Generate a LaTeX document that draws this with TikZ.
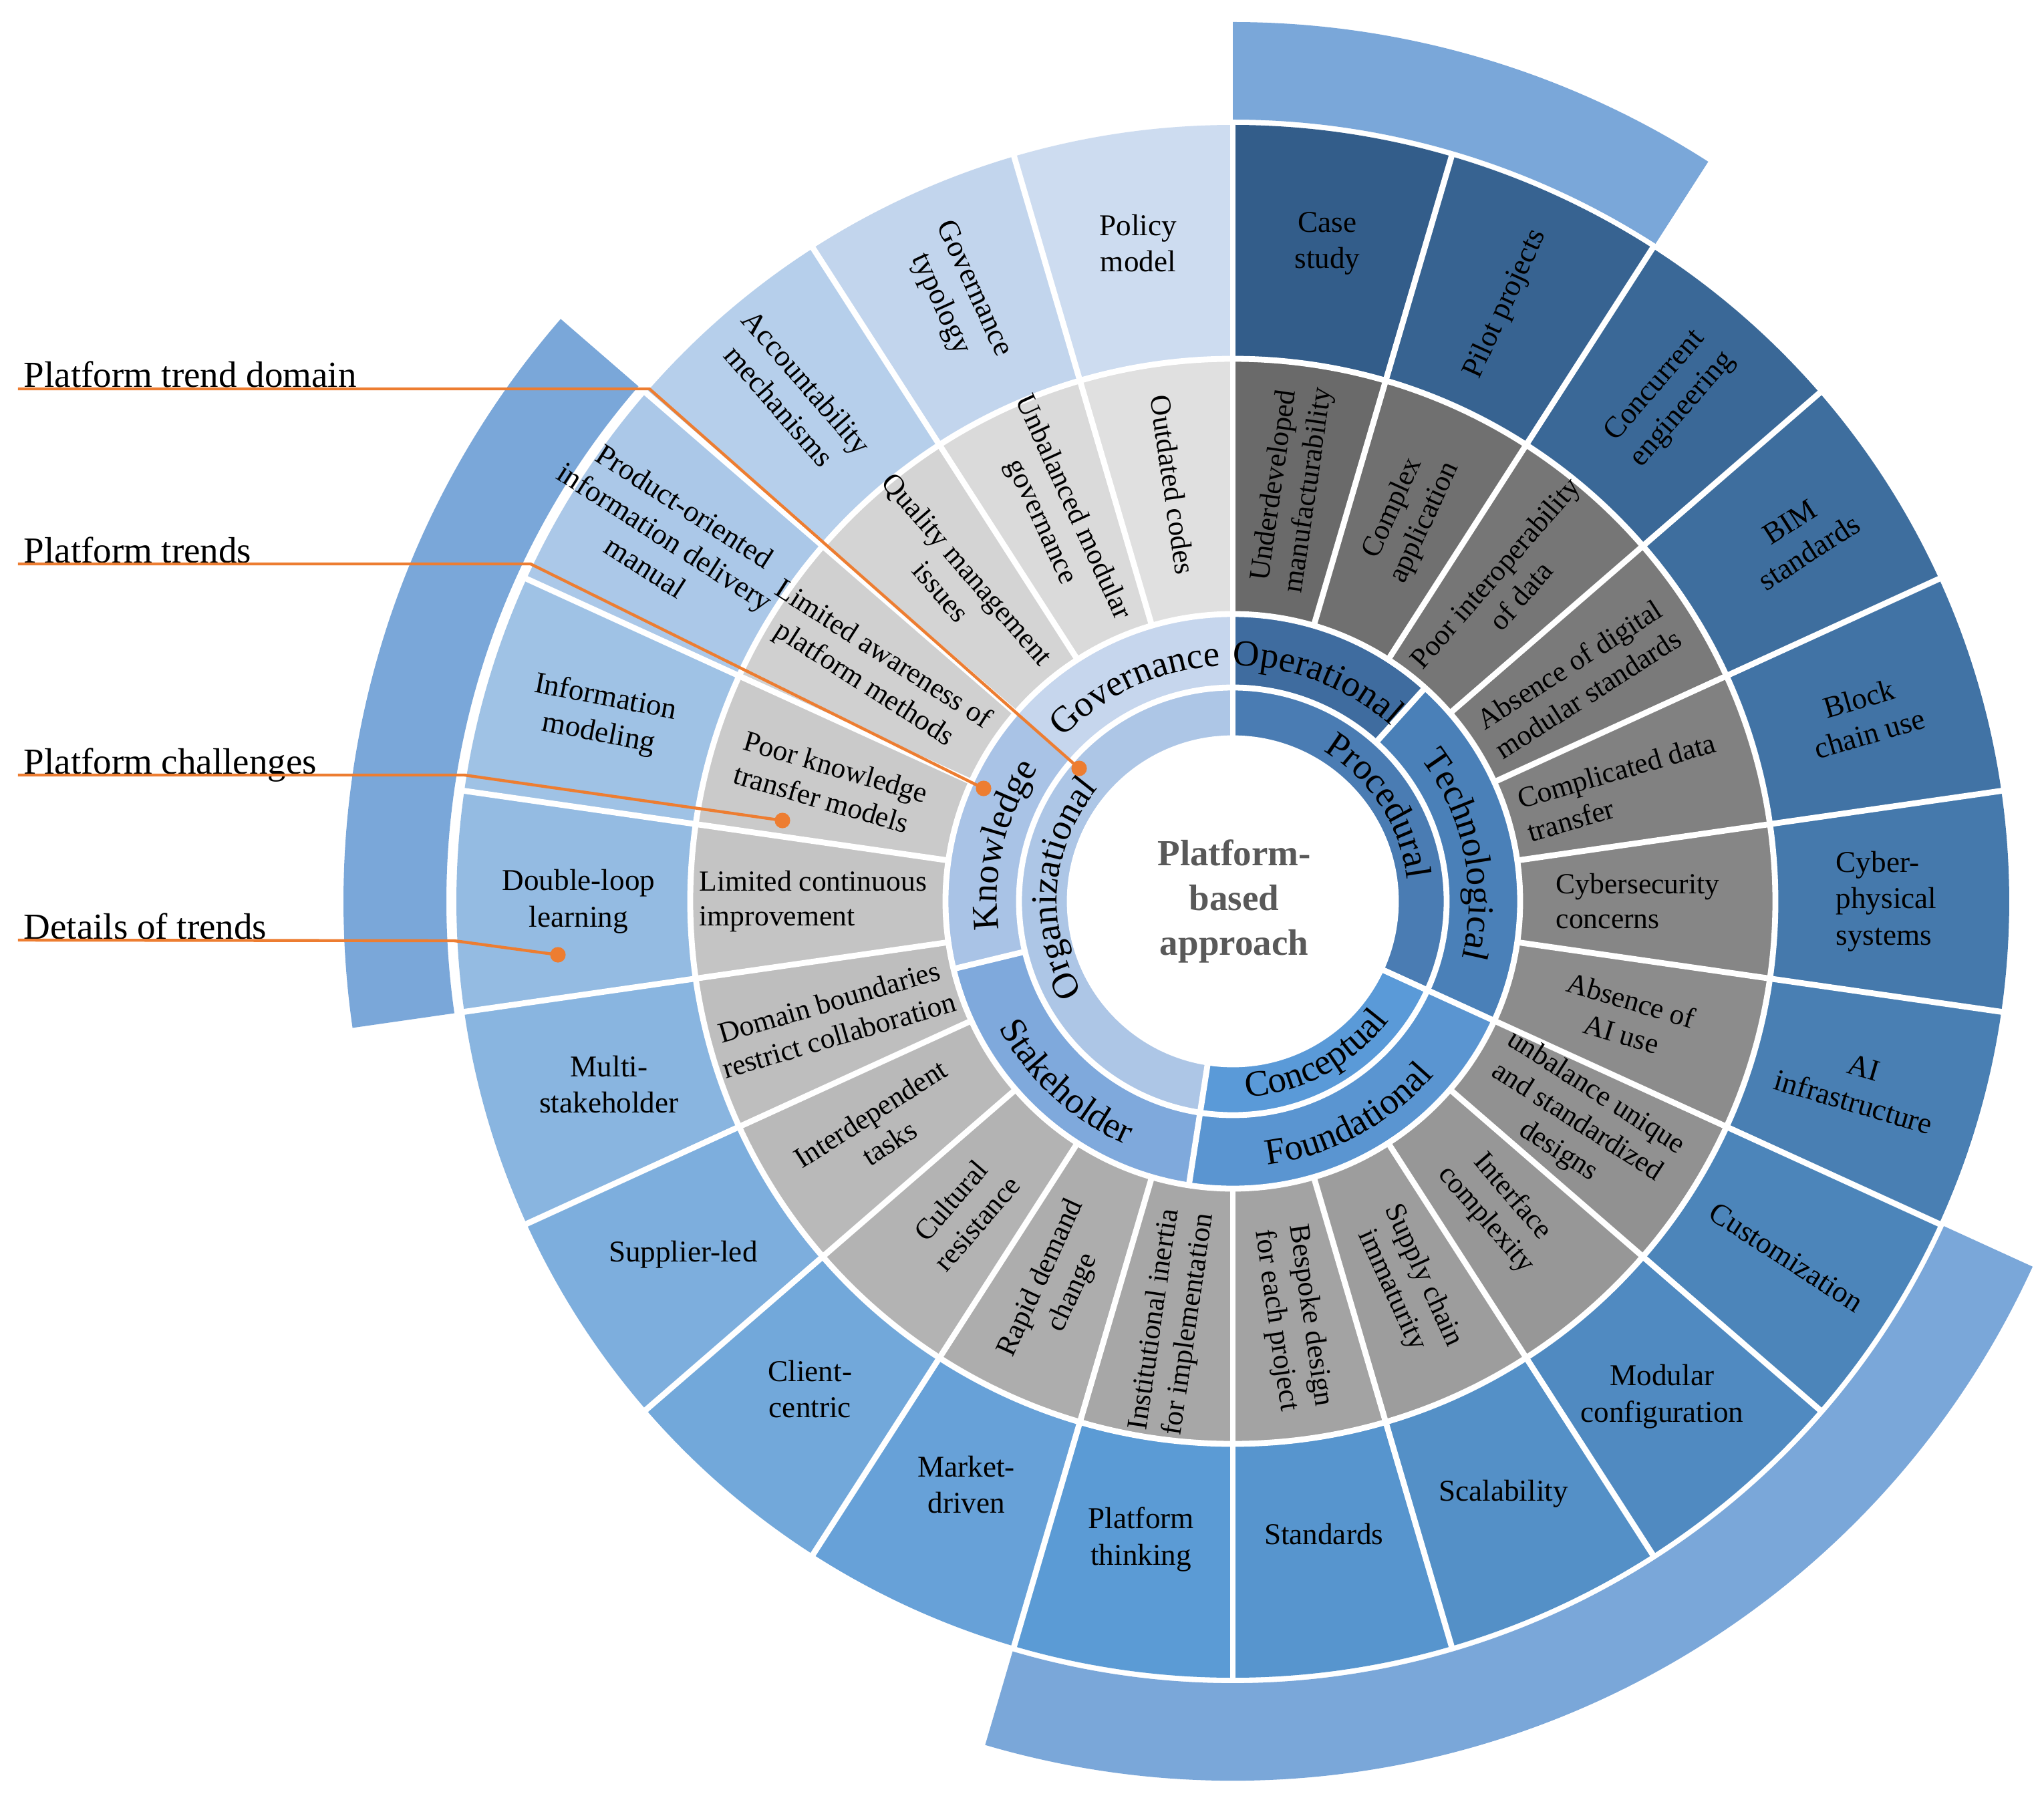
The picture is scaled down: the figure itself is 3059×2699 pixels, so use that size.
\documentclass[tikz,border=0pt]{standalone}
\usepackage{fontspec}
\setmainfont{Liberation Serif}
\usetikzlibrary{decorations.text}
\definecolor{dA}{HTML}{335D8A}
\definecolor{dB}{HTML}{5B9BD5}
\definecolor{dE}{HTML}{CDDCF0}
\definecolor{gA}{HTML}{6A6A6A}
\definecolor{gE}{HTML}{E0E0E0}
\definecolor{arcblue}{HTML}{7AA7D9}
\definecolor{govc}{HTML}{C6D6ED}
\definecolor{knowc}{HTML}{A9C3E6}
\definecolor{stakec}{HTML}{7FA9DC}
\definecolor{foundc}{HTML}{5A95D1}
\definecolor{techc}{HTML}{4A80B8}
\definecolor{operc}{HTML}{3F6C9F}
\definecolor{orgc}{HTML}{ADC6E6}
\definecolor{procc}{HTML}{4A7CB3}
\definecolor{concc}{HTML}{5A9AD8}
\definecolor{orangec}{HTML}{ED7D31}
\definecolor{centerc}{HTML}{595959}
\newcommand\annsec[5]{\fill[#5] (#3:#1) arc[start angle=#3,end angle=#4,radius=#1] -- (#4:#2) arc[start angle=#4,end angle=#3,radius=#2] -- cycle;}
\newcommand\ringfont{\fontsize{13.75}{16}\selectfont}
\begin{document}
\begin{tikzpicture}[x=0.25pt,y=0.25pt,
  sep/.style={white, line width=2.2pt},
  dlab/.style={font=\fontsize{11.3}{13.6}\selectfont, align=center, inner sep=0pt},
  clab/.style={font=\fontsize{10.9}{13}\selectfont, align=center, inner sep=0pt},
  leader/.style={orangec, line width=1.1pt},
  dotnode/.style={circle, fill=orangec, minimum size=5.8pt, inner sep=0pt},
  sidelab/.style={font=\fontsize{13.75}{16}\selectfont, anchor=base west, inner sep=0pt}]
\fill[white] (-1845,-1350) rectangle (1214,1349);
\useasboundingbox (-1845,-1350) rectangle (1214,1349);
% outer highlight arcs
\annsec{1170}{1316}{57.27}{90}{arcblue}
\annsec{1177}{1331}{139.09}{188.18}{arcblue}
\annsec{1170}{1316}{-106.36}{-24.55}{arcblue}
% rings D and C
\foreach \i in {0,...,21}{
  \pgfmathsetmacro\aS{90-16.363636*\i}
  \pgfmathsetmacro\aE{90-16.363636*(\i+1)}
  \ifnum\i<12 \pgfmathtruncatemacro\p{round(100*\i/11)}\colorlet{cur}{dB!\p!dA}%
  \else \pgfmathtruncatemacro\p{round(100*(\i-11)/10)}\colorlet{cur}{dE!\p!dB}\fi
  \annsec{812}{1162}{\aS}{\aE}{cur}
  \pgfmathtruncatemacro\q{round(100*\i/21)}
  \colorlet{curg}{gE!\q!gA}
  \annsec{430}{812}{\aS}{\aE}{curg}
}
% ring B
\annsec{320}{430}{48}{90}{operc}
\annsec{320}{430}{-24.55}{48}{techc}
\annsec{320}{430}{-98.8}{-24.55}{foundc}
\annsec{320}{430}{193.6}{261.2}{stakec}
\annsec{320}{430}{139.09}{193.6}{knowc}
\annsec{320}{430}{90}{139.09}{govc}
% ring A
\annsec{244}{320}{-24.55}{90}{procc}
\annsec{244}{320}{-98.8}{-24.55}{concc}
\annsec{244}{320}{90}{261.2}{orgc}
% separators
\foreach \i in {0,...,21} \draw[sep] ({90-16.363636*\i}:428) -- ({90-16.363636*\i}:1166);
\foreach \r in {244,320,430,812} \draw[sep] (0,0) circle[radius=\r];
\foreach \a in {90,48,-24.55,-98.8,193.6} \draw[sep] (\a:318) -- (\a:432);
\foreach \a in {90,-24.55,-98.8} \draw[sep] (\a:242) -- (\a:322);
% ring D labels
\node[dlab] (d0) at (81.82:995) {Case\\study};
\node[dlab, rotate=65.45] (d1) at (65.45:983) {Pilot projects};
\node[dlab, rotate=49.09] (d2) at (49.09:997) {Concurrent\\engineering};
\node[dlab, rotate=32.73] (d3) at (32.73:1008) {BIM\\standards};
\node[dlab, rotate=16.36] (d4) at (16.36:985) {Block\\chain use};
\node[dlab, align=left] (d5) at (0:978) {Cyber-\\physical\\systems};
\node[dlab, rotate=-16.36] (d6) at (-16.36:976) {AI\\infrastructure};
\node[dlab, rotate=-32.73] (d7) at (-32.73:985) {Customization};
\node[dlab] (d8) at (-49.09:981) {Modular\\configuration};
\node[dlab] (d9) at (-65.45:975) {Scalability};
\node[dlab] (d10) at (-81.82:957) {Standards};
\node[dlab] (d11) at (-98.18:965) {Platform\\thinking};
\node[dlab] (d12) at (-114.55:960) {Market-\\driven};
\node[dlab] (d13) at (-130.91:966) {Client-\\centric};
\node[dlab] (d14) at (-147.27:978) {Supplier-led};
\node[dlab] (d15) at (-163.64:973) {Multi-\\stakeholder};
\node[dlab] (d16) at (180:979) {Double-loop\\learning};
\node[dlab, rotate=-11] (d17) at (163.64:984) {Information\\modeling};
\node[dlab, rotate=-32.73] (d18) at (147.27:1010) {Product-oriented\\information delivery\\manual};
\node[dlab, rotate=-49.09] (d19) at (130.91:1005) {Accountability\\mechanisms};
\node[dlab, rotate=-65.45] (d20) at (114.55:995) {Governance\\typology};
\node[dlab] (d21) at (98.18:995) {Policy\\model};
% ring C labels
\node[clab, rotate=81.82] (c0) at (81.82:625) {Underdeveloped\\manufacturability};
\node[clab, rotate=65.45] (c1) at (65.45:635) {Complex\\application};
\node[clab, rotate=49.09] (c2) at (49.09:628) {Poor interoperability\\of data};
\node[clab, rotate=32.73] (c3) at (32.73:615) {Absence of digital\\modular standards};
\node[clab, rotate=16.36, align=left] (c4) at (16.36:606) {Complicated data\\transfer};
\node[clab, align=left] (c5) at (0:606) {Cybersecurity\\concerns};
\node[clab, rotate=-16.36] (c6) at (-16.36:614) {Absence of\\AI use};
\node[clab, rotate=-32.73] (c7) at (-32.73:612) {unbalance unique\\and standardized\\designs};
\node[clab, rotate=-49.09] (c8) at (-49.09:608) {Interface\\complexity};
\node[clab, rotate=-65.45] (c9) at (-65.45:628) {Supply chain\\immaturity};
\node[clab, rotate=-81.82] (c10) at (-81.82:630) {Bespoke design\\for each project};
\node[clab, rotate=81.82] (c11) at (-98.18:636) {Institutional inertia\\for implementation};
\node[clab, rotate=65.45] (c12) at (-114.55:632) {Rapid demand\\change};
\node[clab, rotate=49.09] (c13) at (-130.91:615) {Cultural\\resistance};
\node[clab, rotate=32.73] (c14) at (-147.27:628) {Interdependent\\tasks};
\node[clab, rotate=16.36] (c15) at (-163.64:622) {Domain boundaries\\restrict collaboration};
\node[clab, align=left] (c16) at (180:628) {Limited continuous\\improvement};
\node[clab, rotate=-16.36, align=left] (c17) at (163.64:627) {Poor knowledge\\transfer models};
\node[clab, rotate=-32.73] (c18) at (147.27:640) {Limited awareness of\\platform methods};
\node[clab, rotate=-49.09] (c19) at (130.91:636) {Quality management\\issues};
\node[clab, rotate=-65.45] (c20) at (114.55:636) {Unbalanced modular\\governance};
\node[clab, rotate=-81.82] (c21) at (98.18:630) {Outdated codes};
% ring B curved labels
\path[decorate, decoration={text along path, text align=center, text={|\ringfont|Governance}}] (164.55:353) arc[start angle=164.55, end angle=64.55, radius=353];
\path[decorate, decoration={text along path, text align=center, text={|\ringfont|Operational}}] (119:353) arc[start angle=119, end angle=19, radius=353];
\path[decorate, decoration={text along path, text align=center, text={|\ringfont|Technological}}] (61.7:353) arc[start angle=61.7, end angle=-38.3, radius=353];
\path[decorate, decoration={text along path, text align=center, text={|\ringfont|Foundational}}] (-111.7:398) arc[start angle=-111.7, end angle=-11.7, radius=398];
\path[decorate, decoration={text along path, text align=center, text={|\ringfont|Stakeholder}}] (177.4:398) arc[start angle=177.4, end angle=277.4, radius=398];
\path[decorate, decoration={text along path, text align=center, text={|\ringfont|Knowledge}}] (216.3:353) arc[start angle=216.3, end angle=116.3, radius=353];
% ring A curved labels
\path[decorate, decoration={text along path, text align=center, text={|\ringfont|Organizational}}] (225.6:263) arc[start angle=225.6, end angle=125.6, radius=263];
\path[decorate, decoration={text along path, text align=center, text={|\ringfont|Procedural}}] (83:263) arc[start angle=83, end angle=-17, radius=263];
\path[decorate, decoration={text along path, text align=center, text={|\ringfont|Conceptual}}] (-111.7:294) arc[start angle=-111.7, end angle=-11.7, radius=294];
% centre
\node[align=center, font=\fontsize{13.75}{16.75}\selectfont\bfseries, text=centerc, inner sep=0pt] (ctr) at (2,0) {Platform-\\based\\approach};
% side labels and leaders
\node[sidelab] (t1) at (-1810,769) {Platform trend domain};
\node[sidelab] (t2) at (-1810,507) {Platform trends};
\node[sidelab] (t3) at (-1810,191) {Platform challenges};
\node[sidelab] (t4) at (-1810,-56) {Details of trends};
\coordinate (s1) at (-1818,767); \coordinate (b1) at (-873,767);
\coordinate (s2) at (-1818,505); \coordinate (b2) at (-1051,505);
\coordinate (s3) at (-1818,189); \coordinate (b3) at (-1150,189);
\coordinate (s4) at (-1818,-58); \coordinate (b4) at (-1165,-59);
\node[dotnode] (p1) at (-230,199) {};
\node[dotnode] (p2) at (-373,169) {};
\node[dotnode] (p3) at (-674,121) {};
\node[dotnode] (p4) at (-1010,-80) {};
\draw[leader] (s1) -- (b1) -- (p1.center);
\draw[leader] (s2) -- (b2) -- (p2.center);
\draw[leader] (s3) -- (b3) -- (p3.center);
\draw[leader] (s4) -- (b4) -- (p4.center);
\end{tikzpicture}
\end{document}
